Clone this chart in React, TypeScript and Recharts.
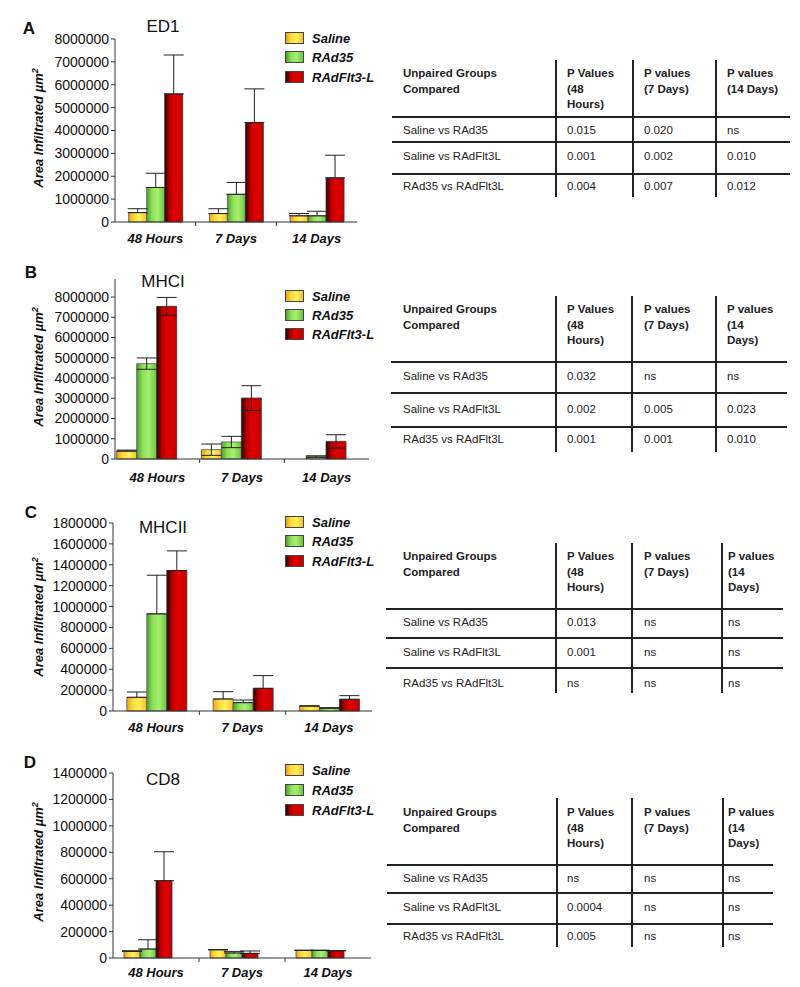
import React from "react"
import { BarChart, Bar, XAxis, YAxis, ErrorBar } from "recharts"

const categories = ["48 Hours", "7 Days", "14 Days"]
const groups = ["Saline", "RAd35", "RAdFlt3-L"]

// ED1
const ed1Saline = [410000, 370000, 270000]
const ed1SalineErr = [170000, 210000, 100000]
const ed1RAd35 = [1510000, 1210000, 270000]
const ed1RAd35Err = [620000, 520000, 200000]
const ed1Flt3 = [5600000, 4350000, 1930000]
const ed1Flt3Err = [1700000, 1470000, 990000]

// MHCI
const mhc1Saline = [410000, 460000, 0]
const mhc1SalineErr = [30000, 280000, 0]
const mhc1RAd35 = [4710000, 840000, 120000]
const mhc1RAd35Err = [280000, 280000, 40000]
const mhc1Flt3 = [7540000, 3010000, 870000]
const mhc1Flt3Err = [440000, 610000, 330000]

// MHCII
const mhc2Saline = [131000, 115000, 48000]
const mhc2SalineErr = [51000, 70000, 0]
const mhc2RAd35 = [930000, 80000, 26000]
const mhc2RAd35Err = [370000, 25000, 6000]
const mhc2Flt3 = [1345000, 217000, 112000]
const mhc2Flt3Err = [188000, 122000, 35000]

// CD8
const cd8Saline = [50000, 63000, 58000]
const cd8SalineErr = [5000, 0, 0]
const cd8RAd35 = [68000, 38000, 58000]
const cd8RAd35Err = [70000, 12000, 0]
const cd8Flt3 = [585000, 35000, 55000]
const cd8Flt3Err = [219000, 18000, 0]

// p value tables
const comparisons = ["Saline vs RAd35", "Saline vs RAdFlt3L", "RAd35 vs RAdFlt3L"]
const ed1P48 = ["0.015", "0.001", "0.004"]
const ed1P7 = ["0.020", "0.002", "0.007"]
const ed1P14 = ["ns", "0.010", "0.012"]
const mhc1P48 = ["0.032", "0.002", "0.001"]
const mhc1P7 = ["ns", "0.005", "0.001"]
const mhc1P14 = ["ns", "0.023", "0.010"]
const mhc2P48 = ["0.013", "0.001", "ns"]
const mhc2P7 = ["ns", "ns", "ns"]
const mhc2P14 = ["ns", "ns", "ns"]
const cd8P48 = ["ns", "0.0004", "0.005"]
const cd8P7 = ["ns", "ns", "ns"]
const cd8P14 = ["ns", "ns", "ns"]

const FONT = "'Liberation Sans', Arial, sans-serif"

const makeRows = (s, sE, g, gE, r, rE, sym) =>
  categories.map((c, i) => ({
    name: c,
    saline: s[i],
    salineErr: sym ? sE[i] : [0, sE[i]],
    rad35: g[i],
    rad35Err: sym ? gE[i] : [0, gE[i]],
    flt3: r[i],
    flt3Err: sym ? rE[i] : [0, rE[i]],
  }))

const panels = [
  {
    key: "a", letter: "A", title: "ED1", top: 0, height: 250,
    margin: { top: 39, right: 23, bottom: 4, left: 45 }, xh: 24,
    domain: [0, 8000000], ticks: [0, 1000000, 2000000, 3000000, 4000000, 5000000, 6000000, 7000000, 8000000],
    gap: "17%", pad: false, labelOff: 16,
    data: makeRows(ed1Saline, ed1SalineErr, ed1RAd35, ed1RAd35Err, ed1Flt3, ed1Flt3Err, false),
    letterPos: [29, 29], titlePos: [163, 27], ylabY: 128, legendY: [37.5, 57, 77],
  },
  {
    key: "b", letter: "B", title: "MHCI", top: 250, height: 240,
    margin: { top: 29, right: 11, bottom: 4, left: 45 }, xh: 27,
    domain: [0, 8890000], ticks: [0, 1000000, 2000000, 3000000, 4000000, 5000000, 6000000, 7000000, 8000000],
    gap: "2%", pad: true, labelOff: 18,
    data: makeRows(mhc1Saline, mhc1SalineErr, mhc1RAd35, mhc1RAd35Err, mhc1Flt3, mhc1Flt3Err, true),
    letterPos: [31, 273], titlePos: [163, 282], ylabY: 367, legendY: [295.5, 315, 334],
  },
  {
    key: "c", letter: "C", title: "MHCII", top: 490, height: 245,
    margin: { top: 33, right: 8, bottom: 4, left: 43 }, xh: 20,
    domain: [0, 1800000], ticks: [0, 200000, 400000, 600000, 800000, 1000000, 1200000, 1400000, 1600000, 1800000],
    gap: "16%", pad: false, labelOff: 16,
    data: makeRows(mhc2Saline, mhc2SalineErr, mhc2RAd35, mhc2RAd35Err, mhc2Flt3, mhc2Flt3Err, false),
    letterPos: [31, 513], titlePos: [163, 528], ylabY: 617, legendY: [521.5, 541, 560.5],
  },
  {
    key: "d", letter: "D", title: "CD8", top: 740, height: 247,
    margin: { top: 33, right: 9, bottom: 4, left: 43 }, xh: 25,
    domain: [0, 1400000], ticks: [0, 200000, 400000, 600000, 800000, 1000000, 1200000, 1400000],
    gap: "12.8%", pad: true, labelOff: 14,
    data: makeRows(cd8Saline, cd8SalineErr, cd8RAd35, cd8RAd35Err, cd8Flt3, cd8Flt3Err, false),
    letterPos: [30, 763], titlePos: [163, 780], ylabY: 862, legendY: [770, 790, 809.5],
  },
]

const tables = [
  {
    p: [ed1P48, ed1P7, ed1P14], head3: ["P values", "(14 Days)"],
    vx: [556, 633, 716], vTop: 60, vBottom: 197, hy: [117, 142, 174], hx0: 392, hx1: 790,
    headY: 74, rowY: [131, 157, 187], colX: [403, 567, 644, 727],
  },
  {
    p: [mhc1P48, mhc1P7, mhc1P14], head3: ["P values", "(14", "Days)"],
    vx: [556, 632, 716], vTop: 296, vBottom: 452, hy: [362, 393, 427], hx0: 391, hx1: 787,
    headY: 310, rowY: [377, 410, 440], colX: [403, 567, 644, 727],
  },
  {
    p: [mhc2P48, mhc2P7, mhc2P14], head3: ["P values", "(14", "Days)"],
    vx: [556, 632, 722], vTop: 543, vBottom: 693, hy: [609, 638, 668], hx0: 386, hx1: 783,
    headY: 557, rowY: [623, 653, 684], colX: [403, 567, 644, 728],
  },
  {
    p: [cd8P48, cd8P7, cd8P14], head3: ["P values", "(14", "Days)"],
    vx: [557, 632, 723], vTop: 798, vBottom: 947, hy: [865, 893, 924], hx0: 387, hx1: 773,
    headY: 813, rowY: [879, 908, 937], colX: [403, 567, 644, 728],
  },
]

const fills = {
  saline: "linear-gradient(90deg, #e8a21c 0%, #ffd93a 30%, #fff05a 60%, #f4c22c 100%)",
  rad35: "linear-gradient(90deg, #4f9f2c 0%, #8ee05a 30%, #a6f070 60%, #6cc43c 100%)",
  flt3: "linear-gradient(90deg, #2a0000 0%, #b00000 25%, #e00000 50%, #c80000 100%)",
}

const Grads = ({ id }) => (
  <defs>
    <linearGradient id={`${id}-s`} x1="0" y1="0" x2="1" y2="0">
      <stop offset="0%" stopColor="#e8a21c" />
      <stop offset="30%" stopColor="#ffd93a" />
      <stop offset="60%" stopColor="#fff05a" />
      <stop offset="100%" stopColor="#f4c22c" />
    </linearGradient>
    <linearGradient id={`${id}-g`} x1="0" y1="0" x2="1" y2="0">
      <stop offset="0%" stopColor="#4f9f2c" />
      <stop offset="30%" stopColor="#8ee05a" />
      <stop offset="60%" stopColor="#a6f070" />
      <stop offset="100%" stopColor="#6cc43c" />
    </linearGradient>
    <linearGradient id={`${id}-r`} x1="0" y1="0" x2="1" y2="0">
      <stop offset="0%" stopColor="#2a0000" />
      <stop offset="25%" stopColor="#b00000" />
      <stop offset="50%" stopColor="#e00000" />
      <stop offset="100%" stopColor="#c80000" />
    </linearGradient>
  </defs>
)

const CatTick = (props) => {
  const { x, y, payload, index, bw, off } = props
  return (
    <g>
      <text x={x} y={y + off} textAnchor="middle" dominantBaseline="central"
        fontSize={13} fontWeight="bold" fontStyle="italic" fill="#111" fontFamily={FONT}>
        {payload.value}
      </text>
      {index > 0 && <line x1={x - bw / 2} x2={x - bw / 2} y1={y} y2={y + 4} stroke="#333" />}
    </g>
  )
}

function Panel({ cfg }) {
  const width = 380
  const plotW = width - cfg.margin.left - 70 - cfg.margin.right
  const bw = plotW / 3
  const abs = (x, y) => ({ position: "absolute", left: x, top: y })
  return (
    <>
      <div style={{ ...abs(cfg.letterPos[0], cfg.letterPos[1]), transform: "translate(-50%,-50%)", fontWeight: "bold", fontSize: 17 }}>
        {cfg.letter}
      </div>
      <div style={{ ...abs(cfg.titlePos[0], cfg.titlePos[1]), transform: "translate(-50%,-50%)", fontSize: 17, whiteSpace: "nowrap" }}>
        {cfg.title}
      </div>
      <div style={{ ...abs(38, cfg.ylabY), transform: "translate(-50%,-50%) rotate(-90deg)", fontSize: 13, fontWeight: "bold", fontStyle: "italic", whiteSpace: "nowrap" }}>
        Area Infiltrated µm<sup style={{ fontSize: 9 }}>2</sup>
      </div>
      <div style={{ ...abs(0, cfg.top) }}>
        <BarChart width={width} height={cfg.height} data={cfg.data} margin={cfg.margin}
          barCategoryGap={cfg.gap} barGap={0}>
          <Grads id={cfg.key} />
          <XAxis dataKey="name" height={cfg.xh} tickSize={0} tickMargin={0} interval={0}
            axisLine={{ stroke: "#333" }}
            tick={(p) => <CatTick {...p} bw={bw} off={cfg.labelOff} />} />
          <YAxis width={70} domain={cfg.domain} ticks={cfg.ticks} interval={0} tickSize={4} tickMargin={2}
            axisLine={{ stroke: "#333" }} tickLine={{ stroke: "#333" }}
            tick={{ fontSize: 14, fill: "#111", fontFamily: FONT }} />
          <Bar dataKey="saline" fill={`url(#${cfg.key}-s)`} stroke="#555" strokeWidth={0.8} isAnimationActive={false}>
            <ErrorBar dataKey="salineErr" width={10} stroke="#222" strokeWidth={1} direction="y" />
          </Bar>
          <Bar dataKey="rad35" fill={`url(#${cfg.key}-g)`} stroke="#555" strokeWidth={0.8} isAnimationActive={false}>
            <ErrorBar dataKey="rad35Err" width={10} stroke="#222" strokeWidth={1} direction="y" />
          </Bar>
          <Bar dataKey="flt3" fill={`url(#${cfg.key}-r)`} stroke="#333" strokeWidth={0.8} isAnimationActive={false}>
            <ErrorBar dataKey="flt3Err" width={10} stroke="#222" strokeWidth={1} direction="y" />
          </Bar>
          {cfg.pad && <Bar dataKey="pad" isAnimationActive={false} legendType="none" />}
        </BarChart>
      </div>
      {groups.map((g, i) => (
        <React.Fragment key={g}>
          <div style={{ ...abs(285, cfg.legendY[i] - 6), width: 19, height: 12, boxSizing: "border-box", border: "1px solid #444", background: Object.values(fills)[i] }} />
          <div style={{ ...abs(312, cfg.legendY[i]), transform: "translateY(-50%)", fontSize: 13, fontWeight: "bold", fontStyle: "italic", whiteSpace: "nowrap" }}>
            {g}
          </div>
        </React.Fragment>
      ))}
    </>
  )
}

function PTable({ t }) {
  const lh = 15.5
  const headers = [["Unpaired Groups", "Compared"], ["P Values", "(48", "Hours)"], ["P values", "(7 Days)"], t.head3]
  const txt = (x, y, s, bold, k) => (
    <div key={k} style={{ position: "absolute", left: x, top: y - lh / 2, lineHeight: `${lh}px`, fontSize: 11.5, fontWeight: bold ? "bold" : "normal", color: "#222", whiteSpace: "pre" }}>
      {s}
    </div>
  )
  return (
    <>
      {t.vx.map((x, i) => (
        <div key={"v" + i} style={{ position: "absolute", left: x - 1, top: t.vTop, width: 2, height: t.vBottom - t.vTop, background: "#222" }} />
      ))}
      {t.hy.map((y, i) => (
        <div key={"h" + i} style={{ position: "absolute", left: t.hx0, top: y - 1, width: t.hx1 - t.hx0, height: 2, background: "#222" }} />
      ))}
      {headers.map((lines, c) => lines.map((s, j) => txt(t.colX[c], t.headY + j * lh, s, true, `h${c}-${j}`)))}
      {comparisons.map((s, r) => txt(t.colX[0], t.rowY[r], s, false, `c${r}`))}
      {t.p.map((col, c) => col.map((s, r) => txt(t.colX[c + 1], t.rowY[r], s, false, `p${c}-${r}`)))}
    </>
  )
}

export default function App() {
  return (
    <div style={{ position: "absolute", left: 0, top: 0, width: 800, height: 987, background: "#fff", fontFamily: FONT, color: "#111", overflow: "hidden" }}>
      {panels.map((p) => <Panel key={p.key} cfg={p} />)}
      {tables.map((t, i) => <PTable key={i} t={t} />)}
    </div>
  )
}
